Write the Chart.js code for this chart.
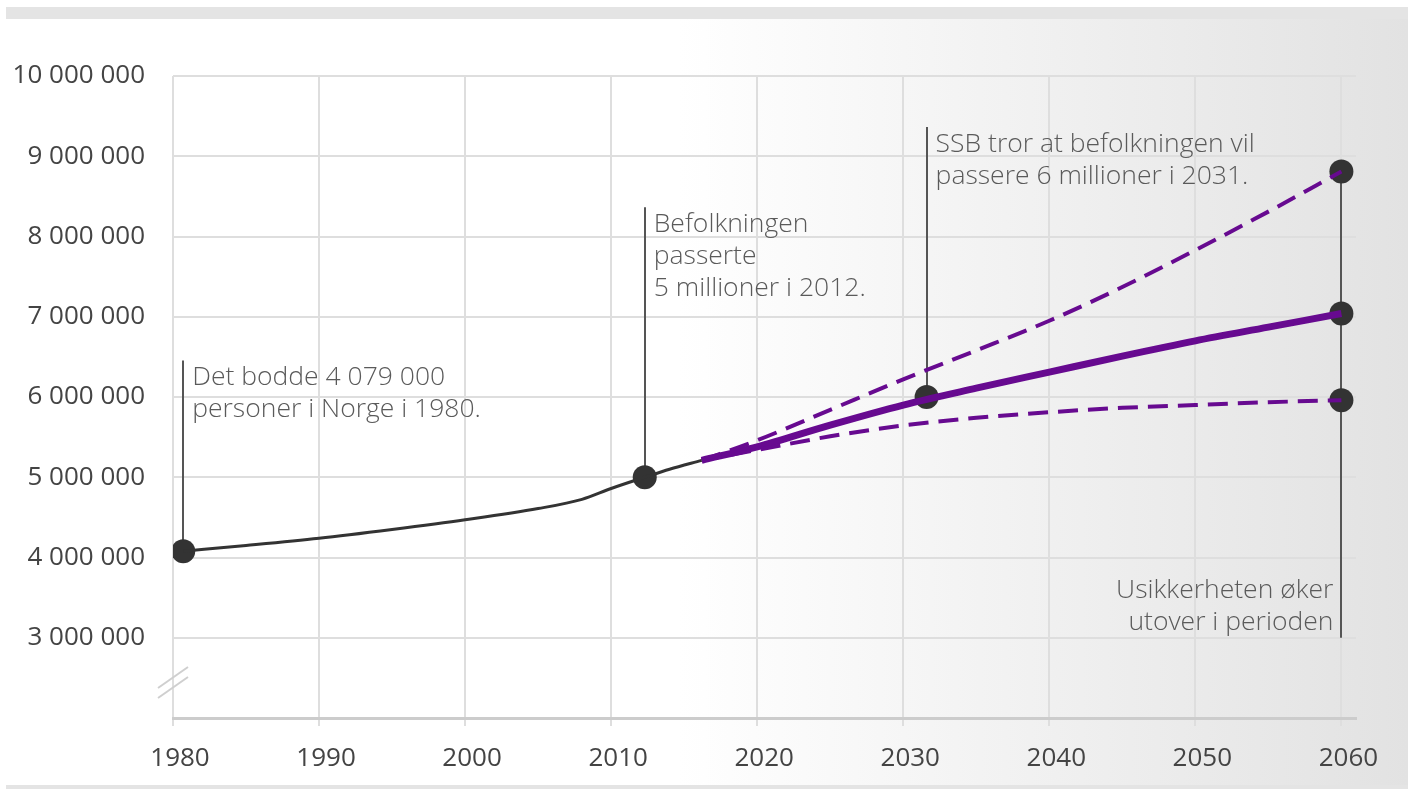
<!DOCTYPE html>
<html lang="no">
<head>
<meta charset="utf-8">
<title>Befolkningsframskrivning Norge</title>
<script src="https://cdn.jsdelivr.net/npm/chart.js@4/dist/chart.umd.min.js"></script>
<style>
  html, body { margin: 0; padding: 0; background: #fff; }
  #wrap {
    position: absolute; left: 6px; top: 7px; width: 1402px; height: 782px;
    background: linear-gradient(to right, #ffffff 0%, #ffffff 48%, #e2e2e2 100%);
  }
  #topband { position: absolute; left: 6px; top: 7px; width: 1402px; height: 12px; background: #e4e4e4; }
  #botband { position: absolute; left: 6px; top: 785px; width: 1402px; height: 4px; background: #e4e4e4; }
  #grafico { position: absolute; left: 0; top: 0; }
</style>
</head>
<body>
<div id="wrap"></div>
<div id="topband"></div>
<div id="botband"></div>
<canvas id="grafico" width="1408" height="789"></canvas>
<script>
// Historisk folketall
const histAar = [1980.7, 1985, 1990, 1995, 2000, 2005, 2008, 2010, 2012.3, 2014, 2016.2];
const histFolk = [4079000, 4150000, 4240000, 4350000, 4470000, 4610000, 4725000, 4860000, 5000000, 5100000, 5210000];

// Framskrivinger (hoved, høy, lav)
const framAar = [2016.2, 2020, 2025, 2030, 2035, 2040, 2045, 2050, 2055, 2060];
const framHoved = [5210000, 5380000, 5650000, 5900000, 6110000, 6310000, 6510000, 6700000, 6870000, 7040000];
const framHoy = [5210000, 5460000, 5840000, 6220000, 6580000, 6950000, 7370000, 7830000, 8310000, 8810000];
const framLav = [5210000, 5340000, 5510000, 5645000, 5740000, 5810000, 5865000, 5900000, 5935000, 5960000];

// Markerte punkter
const punktAar = [1980.7, 2012.3, 2031.6, 2060, 2060, 2060];
const punktFolk = [4079000, 5000000, 6000000, 8810000, 7040000, 5960000];

// Akser
const xTicks = [1980, 1990, 2000, 2010, 2020, 2030, 2040, 2050, 2060];
const yTicks = [3000000, 4000000, 5000000, 6000000, 7000000, 8000000, 9000000, 10000000];

// Kommentarer: år, fra/til folketall, tekstlinjer
const notater = [
    { aar: 1980.7, topp: 6456000, bunn: 4079000, tekst: ["Det bodde 4 079 000", "personer i Norge i 1980."], side: "hoyre" },
    { aar: 2012.3, topp: 8366000, bunn: 5000000, tekst: ["Befolkningen", "passerte", "5 millioner i 2012."], side: "hoyre" },
    { aar: 2031.6, topp: 9364000, bunn: 6000000, tekst: ["SSB tror at befolkningen vil", "passere 6 millioner i 2031."], side: "hoyre" },
    { aar: 2060, topp: 8810000, bunn: 3000000, tekst: ["Usikkerheten øker", "utover i perioden"], side: "venstre" }
];

const lilla = "#670a90";
const xy = (xs, ys) => xs.map((x, i) => ({ x: x, y: ys[i] }));

function formaterTall(v) {
    return String(v).replace(/\B(?=(\d{3})+(?!\d))/g, " ");
}

const kommentarPlugin = {
    id: "kommentarer",
    beforeDatasetsDraw(chart) {
        const ctx = chart.ctx;
        const xs = chart.scales.x, ys = chart.scales.y;
        ctx.save();
        ctx.strokeStyle = "#555";
        ctx.lineWidth = 2;
        notater.forEach(n => {
            const px = Math.round(xs.getPixelForValue(n.aar));
            ctx.beginPath();
            ctx.moveTo(px, ys.getPixelForValue(n.topp));
            ctx.lineTo(px, ys.getPixelForValue(n.bunn));
            ctx.stroke();
        });
        // brudd i y-aksen
        const a = chart.chartArea;
        ctx.strokeStyle = "#cfcfcf";
        ctx.lineWidth = 2;
        [0, 10].forEach(d => {
            ctx.beginPath();
            ctx.moveTo(a.left - 15, a.bottom - 30 + d);
            ctx.lineTo(a.left + 15, a.bottom - 51 + d);
            ctx.stroke();
        });
        ctx.restore();
    },
    afterDatasetsDraw(chart) {
        const ctx = chart.ctx;
        const xs = chart.scales.x, ys = chart.scales.y;
        ctx.save();
        ctx.fillStyle = "#5a5a5a";
        ctx.font = "300 26.5px 'Open Sans', sans-serif";
        ctx.textBaseline = "middle";
        notater.forEach(n => {
            const px = xs.getPixelForValue(n.aar);
            if (n.side === "hoyre") {
                ctx.textAlign = "left";
                const y0 = ys.getPixelForValue(n.topp) + 17;
                n.tekst.forEach((t, i) => ctx.fillText(t, px + 9, y0 + i * 32));
            } else {
                ctx.textAlign = "right";
                const yb = ys.getPixelForValue(n.bunn) - 15;
                const k = n.tekst.length;
                n.tekst.forEach((t, i) => ctx.fillText(t, px - 8, yb - (k - 1 - i) * 32));
            }
        });
        ctx.restore();
    }
};

const ctx = document.getElementById("grafico").getContext("2d");
Chart.defaults.font.family = "'Open Sans', sans-serif";

new Chart(ctx, {
    type: "line",
    data: {
        datasets: [
            {
                data: xy(histAar, histFolk),
                borderColor: "#333",
                borderWidth: 3,
                pointRadius: 0,
                tension: 0.3,
                cubicInterpolationMode: "monotone"
            },
            {
                data: xy(framAar, framHoy),
                borderColor: lilla,
                borderWidth: 4,
                borderDash: [20, 10],
                pointRadius: 0,
                cubicInterpolationMode: "monotone"
            },
            {
                data: xy(framAar, framLav),
                borderColor: lilla,
                borderWidth: 4,
                borderDash: [20, 10],
                pointRadius: 0,
                cubicInterpolationMode: "monotone"
            },
            {
                data: xy(framAar, framHoved),
                borderColor: lilla,
                borderWidth: 7,
                pointRadius: 0,
                cubicInterpolationMode: "monotone"
            },
            {
                data: xy(punktAar, punktFolk),
                showLine: false,
                pointRadius: 12,
                pointBackgroundColor: "#333",
                pointBorderWidth: 0
            }
        ]
    },
    options: {
        responsive: false,
        animation: false,
        devicePixelRatio: 1,
        layout: { padding: { top: 76, right: 52, left: 0, bottom: 0 } },
        plugins: { legend: { display: false }, tooltip: { enabled: false } },
        scales: {
            x: {
                type: "linear",
                min: 1980,
                max: 2061,
                afterFit: s => { s.height = 71; },
                afterBuildTicks: s => { s.ticks = xTicks.map(v => ({ value: v })); },
                ticks: {
                    color: "#444",
                    font: { size: 26 },
                    padding: 17,
                    labelOffset: 7,
                    maxRotation: 0,
                    callback: v => String(v)
                },
                grid: { color: "#dedede", lineWidth: 2, drawTicks: true, tickLength: 8 },
                border: { color: "#cccccc", width: 3 }
            },
            y: {
                min: 2000000,
                max: 10000000,
                afterFit: s => { s.width = 173; },
                afterBuildTicks: s => { s.ticks = [2000000].concat(yTicks).map(v => ({ value: v })); },
                ticks: {
                    color: "#444",
                    font: { size: 26 },
                    padding: 28,
                    callback: v => v === 2000000 ? "" : formaterTall(v)
                },
                grid: { color: "#dedede", lineWidth: 2, drawTicks: false },
                border: { display: false }
            }
        }
    },
    plugins: [kommentarPlugin]
});
</script>
</body>
</html>
